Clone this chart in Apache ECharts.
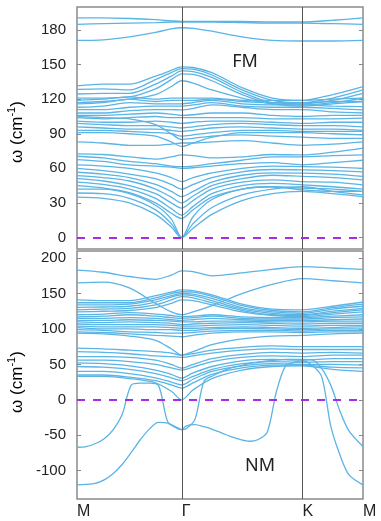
<!DOCTYPE html>
<html>
<head>
<meta charset="utf-8">
<script src="https://cdn.jsdelivr.net/npm/echarts@6/dist/echarts.min.js"></script>
<style>html,body{margin:0;padding:0;background:#fff}#c{width:381px;height:521px}</style>
</head>
<body>
<div id="c"></div>
<script>
// k-path coordinates (M - Γ - K - M)
const kGrid = [0, 0.144, 0.289, 0.433, 0.52, 0.577, 0.64, 0.744, 0.91, 1.077, 1.244, 1.41, 1.577];
const kFine = [0, 0.05, 0.1, 0.15, 0.2, 0.25, 0.3, 0.35, 0.4, 0.45, 0.5, 0.55, 0.577, 0.6, 0.65, 0.7, 0.75, 0.8, 0.85, 0.9, 0.95, 1.0, 1.05, 1.1, 1.15, 1.2, 1.244, 1.3, 1.35, 1.4, 1.45, 1.5, 1.577];
const kTicks = [0, 0.577, 1.244, 1.577];
const kLabels = ['M', 'Γ', 'K', 'M'];
const fmTicks = [0, 30, 60, 90, 120, 150, 180];
const nmTicks = [-100, -50, 0, 50, 100, 150, 200];

// FM bands (values on kGrid)
const fmHigh = [
  [190.5, 190.5, 190, 189, 188, 187.5, 187.5, 187.5, 187.5, 187, 187, 188.5, 190.5],
  [185, 185.5, 186, 186.5, 187, 187, 187, 187, 186.5, 186, 186, 185.5, 185],
  [171, 171.5, 174, 178, 181, 182, 181.5, 179, 174, 171, 170.5, 170.5, 171]
];
const fmUpper = [
  [131.5, 133, 133, 140, 145, 148, 147.5, 143, 130, 121, 119, 124, 131],
  [128.5, 129, 128, 137, 143, 146.5, 146, 141, 128, 119, 117, 121, 128],
  [124.5, 125, 125, 133, 140, 144.5, 144, 139, 126, 117, 116, 119, 125],
  [121, 121, 122, 129, 137, 142, 141.5, 136, 124, 116, 115, 117, 121],
  [117, 118, 120, 124, 131, 136, 134, 128, 121, 116, 114, 116, 118]
];
const fmMiddle = [
  [119, 120, 122, 120, 121, 121, 121, 121, 119, 119, 119, 120, 121],
  [116, 117, 120, 118, 119, 119, 119, 120, 118, 117, 117, 118, 118],
  [113, 114, 117, 116, 116, 116, 117, 119, 116, 115, 115, 114, 113.5],
  [111, 111, 113, 114, 114, 114, 115, 117, 114, 113, 113, 112, 110.7],
  [108, 108, 110, 111, 111, 110.7, 112, 115, 113, 111, 111, 109, 108],
  [106, 106, 107, 108, 107, 106, 106.5, 108, 108, 106, 105, 106, 106],
  [104, 103, 104, 105, 104, 104, 104, 104, 104, 103, 103, 103, 103.5],
  [101, 100, 100, 101, 100, 99, 100, 101, 101, 100, 99, 100, 100],
  [99, 98, 97, 97, 96, 95, 96, 98, 99, 98, 97, 97, 96],
  [96, 95, 94, 94, 93, 92, 93, 95, 96, 95, 94, 94, 93],
  [93, 93, 92, 91, 90, 88, 89, 91, 93, 93, 92, 92, 92],
  [91, 91, 90, 88, 83, 79, 82, 87, 91, 91, 91, 90, 89],
  [105, 104, 103, 98, 90, 85, 86, 88, 89, 88, 87, 86, 86]
];
const fmLower = [
  [83, 82, 80, 80, 81, 82, 82, 83, 84, 82, 80, 81, 83],
  [72.5, 72, 70, 68, 70, 71.6, 71, 69, 70, 72, 71.6, 74, 77.5],
  [70.5, 69, 66, 64, 62, 61.5, 62, 64, 67, 70, 70, 71, 71.6],
  [67.6, 66, 63, 62, 61, 60, 60.5, 62, 64, 65, 63, 65, 67],
  [63, 62, 60, 56, 52, 48.5, 52, 56, 60, 62, 61.5, 61, 60],
  [60, 58, 55, 51, 46, 42, 46, 52, 57, 59, 58.7, 58, 57],
  [56.6, 55, 52, 46, 40, 35.5, 40, 48, 54, 56, 55.8, 55, 53],
  [53.7, 52, 49, 42, 35, 30, 36, 45, 51, 54, 53, 52, 50],
  [51, 49, 45, 38, 30, 25.5, 32, 42, 48, 50, 48.5, 48, 45.7],
  [48, 46, 42, 34, 25, 19.5, 27, 38, 45, 47, 45.7, 44, 42],
  [45, 43, 39, 30, 21, 16.5, 24, 35, 42, 44, 42.9, 42, 40],
  [42, 42, 38, 28, 16, 0, 18, 33, 42, 44, 41.3, 40, 40],
  [38.6, 38, 34, 24, 12, 0, 12, 26, 37, 42, 44, 40, 37],
  [35, 34, 30, 20, 9, 0, 8, 20, 32, 38, 40, 38, 35.5]
];

// NM bands (values on kGrid)
const nmHigh = [
  [183, 180, 174, 170, 176, 182, 181, 175, 179, 184, 188, 186, 184],
  [165, 166, 158, 136, 124, 120, 124, 133, 150, 163, 171, 168, 165]
];
const nmUpper = [
  [141, 140, 140, 147, 152, 155, 154, 148, 135, 128, 127, 132, 138],
  [137, 137, 137, 144, 150, 152.5, 152, 146, 133, 126, 124, 130, 135],
  [134, 134, 135, 141, 147, 150, 149, 143, 130, 124, 122, 128, 132],
  [130.5, 131, 132, 138, 145, 148, 147, 140, 128, 122, 120, 125, 129],
  [127, 128, 129, 134, 141, 145.5, 144, 137, 126, 120, 119, 123, 127],
  [124, 125, 126, 130, 136, 141, 140, 134, 124, 119, 117.5, 121, 124]
];
const nmMiddle = [
  [120, 121, 123, 121, 119, 117, 118, 120, 117, 116, 116, 118, 120],
  [117, 118, 120, 118, 116, 115, 116, 118, 115, 114, 114, 116, 117],
  [115, 115, 116, 115, 113, 112, 113, 115, 113, 112, 112, 113, 114],
  [112, 112, 113, 112, 111, 110, 110, 111, 111, 110, 110, 111, 111],
  [110, 109, 110, 109, 108, 106, 107, 108, 109, 108, 107, 108, 108],
  [107, 106, 106, 106, 105, 104, 104, 105, 106, 105, 104, 105, 105],
  [104, 103, 103, 103, 102, 101, 101, 102, 103, 102, 101, 102, 103],
  [102, 100, 100, 99, 99, 98, 98, 100, 101, 100, 99, 100, 100],
  [99, 98, 96, 95, 94, 94, 95, 97, 98, 98, 97, 98, 98],
  [96, 95, 93, 91, 90, 89, 91, 94, 96, 96, 95, 96, 96],
  [94, 93, 90, 84, 72, 63, 68, 78, 86, 90, 91, 93, 94]
];
const nmLower = [
  [73, 72, 70, 68, 66, 63, 65, 70, 74, 76, 75, 75, 75],
  [68, 67, 65, 62, 61, 60, 62, 66, 70, 72, 71, 71, 71],
  [61, 61, 60, 56, 50, 44.6, 50, 58, 64, 67, 66, 67, 66],
  [56, 56, 54, 50, 45, 42, 46, 54, 60, 62, 61, 63, 63],
  [52, 51, 48, 42, 36, 30.5, 38, 47, 55, 57, 56, 58, 58],
  [47, 46, 43, 37, 31, 27, 33, 43, 51, 54, 53, 54, 54],
  [40, 40, 37, 31, 25, 21, 29, 40, 48, 51, 50, 50, 49],
  [35, 35, 32, 27, 21, 16.5, 24, 36, 45, 49, 49, 46, 45],
  [33, 33, 30, 24, 12, 0, 14, 30, 42, 47, 48, 43, 40]
];
// NM soft modes (values on kFine)
const nmSoft = [
  [-120, -119.5, -118, -113, -104, -91, -74, -56, -41, -32, -33, -39, -42, -37, -35, -38, -42, -47, -52, -56, -58.5, -56, -45, 12, 48, 53, 55, 48, 32, -38, -78, -106, -120],
  [-67, -66, -62, -55, -42, -20, 21, 23.5, 23.5, 20, -31, -40, -42, -41, -28, 26, 34, 40, 45, 48, 51, 53, 55, 56, 57, 57, 57, 56, 44, 20, -16, -44, -66]
];

const bandColor = '#5ab4e5';
const series = [];
function addBands(bands, grid, gi) {
  bands.forEach(b => {
    series.push({
      type: 'line', xAxisIndex: gi, yAxisIndex: gi * 2,
      data: b.map((v, i) => [grid[i], v]),
      showSymbol: false, smooth: 0.3, silent: true,
      lineStyle: { color: bandColor, width: 1.3 }, z: 3
    });
  });
}
addBands(fmHigh, kGrid, 0); addBands(fmUpper, kGrid, 0); addBands(fmMiddle, kGrid, 0); addBands(fmLower, kGrid, 0);
addBands(nmHigh, kGrid, 1); addBands(nmUpper, kGrid, 1); addBands(nmMiddle, kGrid, 1); addBands(nmLower, kGrid, 1);
addBands(nmSoft, kFine, 1);

// guide lines
[0, 1].forEach(gi => {
  series.push({
    type: 'line', xAxisIndex: gi, yAxisIndex: gi * 2, data: [], silent: true, z: 2,
    markLine: {
      silent: true, symbol: 'none', label: { show: false },
      data: [
        { xAxis: kTicks[1], lineStyle: { color: '#555', width: 1, type: 'solid' } },
        { xAxis: kTicks[2], lineStyle: { color: '#555', width: 1, type: 'solid' } }
      ]
    }
  });
  series.push({
    type: 'line', xAxisIndex: gi, yAxisIndex: gi * 2, data: [], silent: true, z: 4,
    markLine: {
      silent: true, symbol: 'none', label: { show: false },
      data: [{ yAxis: 0, lineStyle: { color: '#a62ae6', width: 2, type: [8, 8] } }]
    }
  });
});

const font = 'Liberation Sans';
function yAxes(gi, min, max, ticks) {
  return [
    {
      type: 'value', gridIndex: gi, min: min, max: max, position: 'left',
      axisLine: { show: false }, splitLine: { show: false },
      axisTick: { show: true, inside: true, length: 4, lineStyle: { color: '#888' }, customValues: ticks },
      axisLabel: { show: true, customValues: ticks, fontSize: 15, fontFamily: font, color: '#222', margin: 11 }
    },
    {
      type: 'value', gridIndex: gi, min: min, max: max, position: 'right',
      axisLine: { show: false }, splitLine: { show: false },
      axisTick: { show: true, inside: true, length: 4, lineStyle: { color: '#888' }, customValues: ticks },
      axisLabel: { show: false }
    }
  ];
}
const yTitleRich = {
  a: { fontSize: 17, fontFamily: font, color: '#222', lineHeight: 20, verticalAlign: 'bottom' },
  s: { fontSize: 11, fontFamily: font, color: '#222', lineHeight: 12, verticalAlign: 'top' }
};
function yTitle(y) {
  return {
    type: 'text', x: 16, y: y, rotation: Math.PI / 2,
    style: { text: '{a|ω (cm}{s|-1}{a|)}', rich: yTitleRich, align: 'center', verticalAlign: 'middle', textAlign: 'center', textVerticalAlign: 'middle' }
  };
}

const chart = echarts.init(document.getElementById('c'), null, { renderer: 'canvas' });
chart.setOption({
  animation: false,
  backgroundColor: '#fff',
  grid: [
    { left: 77, right: 18, top: 7, height: 242, show: true, borderColor: '#8a8a8a', borderWidth: 1.5, backgroundColor: 'transparent' },
    { left: 77, right: 18, top: 251, height: 248, show: true, borderColor: '#8a8a8a', borderWidth: 1.5, backgroundColor: 'transparent' }
  ],
  xAxis: [
    { type: 'value', gridIndex: 0, min: 0, max: 1.577, axisLine: { show: false }, axisTick: { show: false }, axisLabel: { show: false }, splitLine: { show: false } },
    {
      type: 'value', gridIndex: 1, min: 0, max: 1.577, axisLine: { show: false }, axisTick: { show: false }, splitLine: { show: false },
      axisLabel: {
        show: true, customValues: kTicks, align: 'left', margin: 5, fontSize: 16, fontFamily: font, color: '#222',
        formatter: v => { let best = 0; kTicks.forEach((t, i) => { if (Math.abs(t - v) < Math.abs(kTicks[best] - v)) best = i; }); return kLabels[best]; }
      }
    }
  ],
  yAxis: [].concat(yAxes(0, -10, 200, fmTicks), yAxes(1, -140, 210, nmTicks)),
  series: series,
  graphic: [
    yTitle(132),
    yTitle(382),
    { type: 'text', x: 245, y: 62, z: 10, style: { text: 'FM', fontSize: 18, fontFamily: 'Noto Sans', fill: '#222', align: 'center', verticalAlign: 'middle', textAlign: 'center', textVerticalAlign: 'middle' } },
    { type: 'text', x: 260, y: 466, z: 10, style: { text: 'NM', fontSize: 18, fontFamily: 'Noto Sans', fill: '#222', align: 'center', verticalAlign: 'middle', textAlign: 'center', textVerticalAlign: 'middle' } }
  ]
});
</script>
</body>
</html>
